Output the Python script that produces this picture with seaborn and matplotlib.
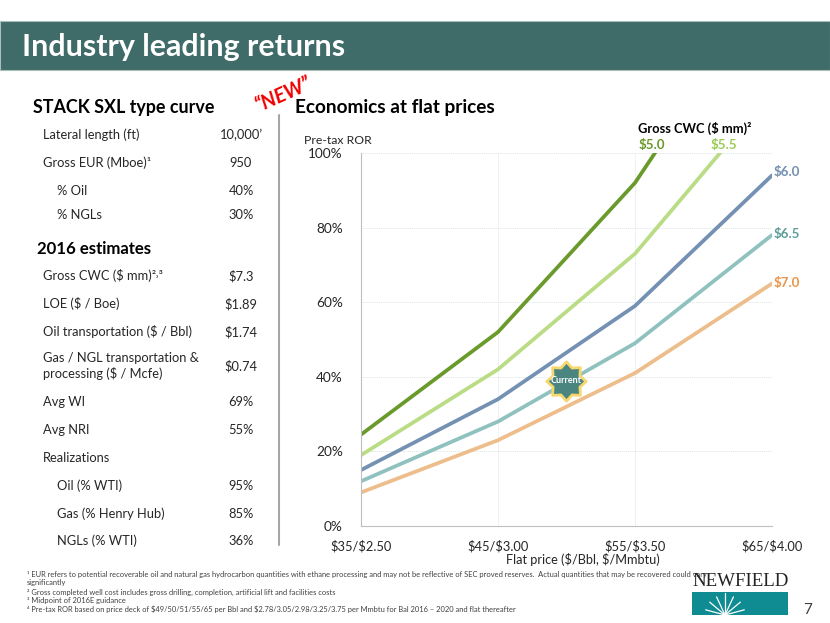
import numpy as np
import pandas as pd
import matplotlib
matplotlib.use('Agg')
import matplotlib.pyplot as plt
import seaborn as sns
from matplotlib.patches import Rectangle
from matplotlib.path import Path

# chart data
prices = ['$35/$2.50', '$45/$3.00', '$55/$3.50', '$65/$4.00']
cwc_50 = [24.5, 52, 92, 147]
cwc_55 = [19, 42, 73, 116.5]
cwc_60 = [15, 34, 59, 94]
cwc_65 = [12, 28, 49, 78]
cwc_70 = [9, 23, 41, 65]
cwc_names = ['$5.0', '$5.5', '$6.0', '$6.5', '$7.0']
line_colors = ['#6A9A2B', '#B9DC85', '#7490B2', '#8FC1BE', '#EDBE8C']
label_colors = ['#6A9A2B', '#9CCB55', '#7490B2', '#5F9E9A', '#E8964A']

# left table
rows = ['Lateral length (ft)', 'Gross EUR (Mboe)¹', '% Oil', '% NGLs',
        'Gross CWC ($ mm)²˒³', 'LOE ($ / Boe)', 'Oil transportation ($ / Bbl)',
        'Gas / NGL transportation &\nprocessing ($ / Mcfe)', 'Avg WI', 'Avg NRI',
        'Realizations', 'Oil (% WTI)', 'Gas (% Henry Hub)', 'NGLs (% WTI)']
row_values = ['10,000’', '950', '40%', '30%', '$7.3', '$1.89', '$1.74', '$0.74',
              '69%', '55%', '', '95%', '85%', '36%']
row_y = [135, 163, 191, 215, 276, 304, 332, 366, 402, 430, 458, 486, 514, 541]
indented = ['% Oil', '% NGLs', 'Oil (% WTI)', 'Gas (% Henry Hub)', 'NGLs (% WTI)']

notes = ['¹ EUR refers to potential recoverable oil and natural gas hydrocarbon quantities with ethane processing and may not be reflective of SEC proved reserves.  Actual quantities that may be recovered could vary',
         'significantly',
         '² Gross completed well cost includes gross drilling, completion, artificial lift and facilities costs',
         '³ Midpoint of 2016E guidance',
         '⁴ Pre-tax ROR based on price deck of $49/50/51/55/65 per Bbl and $2.78/3.05/2.98/3.25/3.75 per Mmbtu for Bal 2016 – 2020 and flat thereafter']
note_y = [574, 583, 592, 600, 609]

sns.set_style('white')
plt.rcParams['font.family'] = ['Lato', 'DejaVu Sans']
plt.rcParams['text.parse_math'] = False

fig = plt.figure(figsize=(8.3, 6.23), dpi=100)

def px(x, y):
    return x / 830, 1 - y / 623

def put(x, y, s, size=9.3, color='#262626', **kw):
    kw.setdefault('va', 'center')
    fig.text(*px(x, y), s, fontsize=size, color=color, **kw)

# banner
fig.add_artist(Rectangle(px(0, 70), 1, 49 / 623, transform=fig.transFigure,
                         facecolor='#3F6B68', edgecolor='#A9BDBB', lw=0.8))
put(22, 47, 'Industry leading returns', size=21.9, color='white', fontweight='bold')

# left column
put(33, 108, 'STACK SXL type curve', size=12.9, color='black', fontweight='bold')
put(37, 249, '2016 estimates', size=12.1, color='black', fontweight='bold')
put(295, 108, 'Economics at flat prices', size=13.7, color='black', fontweight='bold')
put(283, 94, '“NEW”', size=14.5, color='#F00000', fontweight='bold', style='italic',
    rotation=24, ha='center')
fig.add_artist(plt.Line2D([279 / 830, 279 / 830], [1 - 115 / 623, 1 - 545 / 623],
                          color='#A6A6A6', lw=1.5))
for name, val, y in zip(rows, row_values, row_y):
    put(57 if name in indented else 43, y, name, linespacing=1.2)
    if val:
        put(241, y, val, ha='center')

# chart
df = pd.DataFrame({'price': prices * 5,
                   'ror': cwc_50 + cwc_55 + cwc_60 + cwc_65 + cwc_70,
                   'cwc': np.repeat(cwc_names, 4)})
df['pos'] = df['price'].map({p: i for i, p in enumerate(prices)})
ax = fig.add_axes([361 / 830, 1 - 526 / 623, 411 / 830, 373 / 623])
sns.lineplot(data=df, x='pos', y='ror', hue='cwc', palette=line_colors, lw=2.7,
             legend=False, ax=ax)
ax.set_xlim(0, 3)
ax.set_ylim(0, 100)
ax.set_xticks(range(4))
ax.set_xticklabels(prices, fontsize=9.3, color='#262626')
ax.set_yticks(range(0, 101, 20))
ax.set_yticklabels([f'{v}%' for v in range(0, 101, 20)], fontsize=9.8, color='#262626')
ax.tick_params(length=0)
ax.tick_params(axis='y', pad=13)
ax.tick_params(axis='x', pad=10)
ax.grid(True, color='#DDE5E5', lw=0.7, ls=(0, (1, 1)))
ax.set_xlabel('')
ax.set_ylabel('')
for side in ['top', 'right']:
    ax.spines[side].set_visible(False)
for side in ['left', 'bottom']:
    ax.spines[side].set_color('#BFBFBF')

# current marker
ax.scatter([1.496], [38.9], marker=Path.unit_regular_star(8, 0.74), s=800, color='#4B8580',
           edgecolor='#F5D76E', lw=2, zorder=5)
ax.text(1.496, 38.9, 'Current', color='white', fontsize=6.5, fontweight='bold',
        ha='center', va='center', zorder=6)

put(304, 140, 'Pre-tax ROR', size=8.8)
put(583, 560, 'Flat price ($/Bbl, $/Mmbtu)', size=9.2, ha='center')
put(638, 128, 'Gross CWC ($ mm)²', size=9.3, color='black', fontweight='bold')
label_pos = [(639, 145), (711, 145), (774, 172), (774, 234), (774, 283)]
for name, col, (x, y) in zip(cwc_names, label_colors, label_pos):
    put(x, y, name, size=9.6, color=col, fontweight='bold')

# footnotes
for n, y in zip(notes, note_y):
    put(27, y, n, size=5.4, color='#404040')

# logo
put(692, 581, 'NEWFIELD', size=13.6, color='#222222', family='Liberation Serif')
fig.add_artist(Rectangle(px(692, 615), 96 / 830, 23 / 623, transform=fig.transFigure,
                         facecolor='#0E8C92', edgecolor='none'))
for ang in [15, 40, 65, 90, 115, 140, 165]:
    r = 22 if ang == 90 else 20
    fig.add_artist(plt.Line2D([725 / 830, (725 + r * np.cos(np.radians(ang))) / 830],
                              [1 - 615 / 623, 1 - (615 - r * np.sin(np.radians(ang))) / 623],
                              color='white', lw=0.9))
put(808, 610, '7', size=11, color='#404040', ha='center')

fig.savefig('out.png', dpi=100)
